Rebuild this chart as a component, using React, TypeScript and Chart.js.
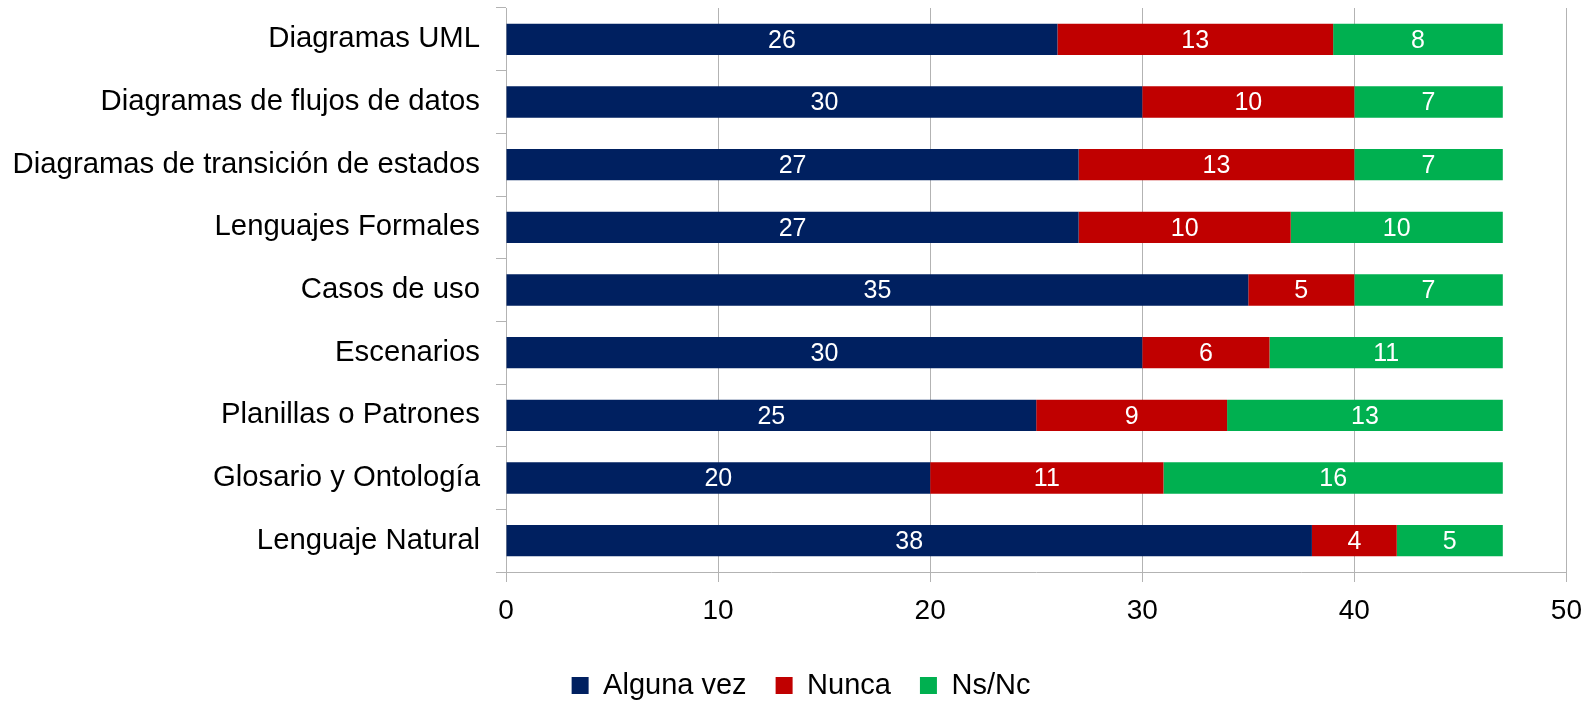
import React, { useEffect, useRef } from "react";
import { Chart, registerables } from "chart.js";

Chart.register(...registerables);

const categories = [
  "Diagramas UML",
  "Diagramas de flujos de datos",
  "Diagramas de transición de estados",
  "Lenguajes Formales",
  "Casos de uso",
  "Escenarios",
  "Planillas o Patrones",
  "Glosario y Ontología",
  "Lenguaje Natural",
];
const algunaVez = [26, 30, 27, 27, 35, 30, 25, 20, 38];
const nunca = [13, 10, 13, 10, 5, 6, 9, 11, 4];
const nsNc = [8, 7, 7, 10, 7, 11, 13, 16, 5];
const xTicks = [0, 10, 20, 30, 40, 50];

const FONT = "'Liberation Sans', Arial, sans-serif";

const dataLabelPlugin = {
  id: "segLabels",
  afterDatasetsDraw(chart: any) {
    const ctx = chart.ctx;
    ctx.save();
    ctx.fillStyle = "#ffffff";
    ctx.font = `25px ${FONT}`;
    ctx.textAlign = "center";
    ctx.textBaseline = "middle";
    chart.data.datasets.forEach((ds: any, i: number) => {
      const meta = chart.getDatasetMeta(i);
      meta.data.forEach((el: any, j: number) => {
        const v = ds.data[j];
        if (!v) return;
        const p = el.getCenterPoint();
        ctx.fillText(String(v), p.x, p.y + 1.5);
      });
    });
    ctx.restore();
  },
};

const legendShiftPlugin = {
  id: "legendShift",
  afterLayout(chart: any) {
    if (chart.legend) {
      chart.legend.left += 17;
      chart.legend.right += 17;
    }
  },
};

export default function App() {
  const ref = useRef<HTMLCanvasElement | null>(null);
  useEffect(() => {
    document.body.style.margin = "0";
    const grey = "#b3b3b3";
    const chart = new Chart(ref.current!, {
      type: "bar",
      data: {
        labels: categories,
        datasets: [
          { label: "Alguna vez", data: algunaVez, backgroundColor: "#002060", borderWidth: 0 },
          { label: "Nunca", data: nunca, backgroundColor: "#c00000", borderWidth: 0 },
          { label: "Ns/Nc", data: nsNc, backgroundColor: "#00b050", borderWidth: 0 },
        ],
      },
      options: {
        indexAxis: "y",
        animation: false,
        responsive: false,
        maintainAspectRatio: false,
        datasets: { bar: { categoryPercentage: 1, barPercentage: 0.5 } },
        layout: { padding: { left: 0, right: 26, top: 8, bottom: -9 } },
        scales: {
          x: {
            stacked: true,
            min: 0,
            max: 50,
            afterBuildTicks(axis: any) {
              axis.ticks = xTicks.map((v) => ({ value: v }));
            },
            afterFit(axis: any) {
              axis.height = 70;
            },
            grid: { color: grey, lineWidth: 1, tickLength: 10 },
            border: { display: true, color: grey },
            ticks: { font: { size: 28, family: FONT }, color: "#000", padding: 12, maxRotation: 0 },
          },
          y: {
            stacked: true,
            afterFit(axis: any) {
              axis.width = 506;
              axis.paddingTop = 0;
              axis.paddingBottom = 0;
            },
            grid: { drawOnChartArea: false, color: grey, tickLength: 10, offset: true },
            border: { display: true, color: grey },
            ticks: { font: { size: 29.3, family: FONT }, color: "#000", padding: 16, autoSkip: false },
          },
        },
        plugins: {
          legend: {
            position: "bottom",
            labels: {
              font: { size: 29, family: FONT },
              color: "#000",
              boxWidth: 17,
              boxHeight: 17,
              padding: 29,
            },
          },
          tooltip: { enabled: false },
        },
      },
      plugins: [dataLabelPlugin, legendShiftPlugin],
    });
    return () => chart.destroy();
  }, []);
  return (
    <div style={{ width: 1594, height: 701 }}>
      <canvas ref={ref} width={1594} height={701} style={{ display: "block" }} />
    </div>
  );
}
